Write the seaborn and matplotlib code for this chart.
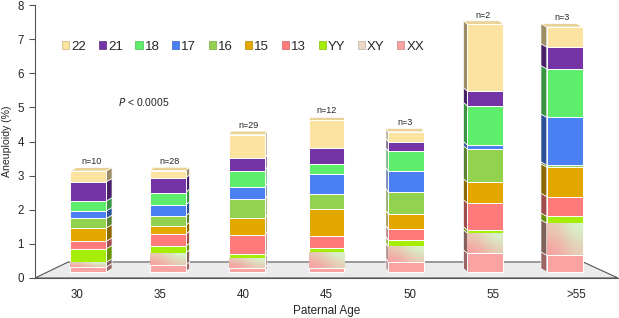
import numpy as np
import pandas as pd
import matplotlib
matplotlib.use('Agg')
import matplotlib.pyplot as plt
from matplotlib.patches import Patch, Polygon
from matplotlib.colors import to_rgb, LinearSegmentedColormap
import seaborn as sns

# data
ages = ['30', '35', '40', '45', '50', '55', '>55']
n_labels = ['n=10', 'n=28', 'n=29', 'n=12', 'n=3', 'n=2', 'n=3']
series = ['XX', 'XY', 'YY', '13', '15', '16', '17', '18', '21', '22']
xx = [0.15, 0.20, 0.11, 0.11, 0.30, 0.55, 0.49]
xy = [0.14, 0.35, 0.31, 0.48, 0.45, 0.59, 0.94]
yy = [0.39, 0.20, 0.12, 0.12, 0.19, 0.09, 0.20]
c13 = [0.22, 0.35, 0.54, 0.35, 0.32, 0.79, 0.58]
c15 = [0.39, 0.26, 0.50, 0.78, 0.44, 0.61, 0.86]
c16 = [0.28, 0.28, 0.55, 0.46, 0.65, 0.97, 0.06]
c17 = [0.22, 0.32, 0.37, 0.58, 0.61, 0.12, 1.40]
c18 = [0.29, 0.37, 0.47, 0.29, 0.58, 1.15, 1.42]
c21 = [0.56, 0.42, 0.37, 0.46, 0.28, 0.43, 0.64]
c22 = [0.32, 0.22, 0.69, 0.82, 0.29, 1.96, 0.59]
values = [xx, xy, yy, c13, c15, c16, c17, c18, c21, c22]

colors = {'XX': '#F9A3A3', 'XY': '#EBD9C6', 'YY': '#A6EE0A', '13': '#FF7B7B',
          '15': '#E2A800', '16': '#93D24E', '17': '#4A80F2', '18': '#5EEE6C',
          '21': '#7434A6', '22': '#FDE3A2'}

sns.set_style('white')
plt.rcParams['font.family'] = ['Liberation Sans', 'DejaVu Sans']

fig = plt.figure(figsize=(6.19, 3.18), dpi=100)
ax = fig.add_axes([35/619, 40/318, 583/619, 273/318])

base = 0.175                            # 3D floor
shift = np.linspace(0.14, -0.14, 7)     # perspective shift of bars
depth_x = shift * 0.5
depth_y = 0.10

# floor
ax.add_patch(Polygon([(-0.5, 0), (-0.1, 0.47), (6.08, 0.47), (6.5, 0)], closed=True,
                     facecolor='#EBEBEB', edgecolor='#555555', lw=0.8, zorder=0.5))


def darker(c, f=0.62):
    return tuple(np.array(to_rgb(c)) * f)


bottom = np.zeros(len(ages))
tops = np.zeros(len(ages))
for name, vals in zip(series, values):
    df = pd.DataFrame({'age': ages, 'val': vals})
    n0 = len(ax.patches)
    sns.barplot(data=df, x='age', y='val', color=colors[name], width=0.43,
                errorbar=None, edgecolor='white', linewidth=0.7, ax=ax, zorder=3)
    new = ax.patches[n0:]
    for i, p in enumerate(new):
        p.set_facecolor(colors[name])
        p.set_x(p.get_x() + shift[i])
        p.set_y(base + bottom[i])
        x0, w = p.get_x(), p.get_width()
        y0, y1 = base + bottom[i], base + bottom[i] + vals[i]
        # side face
        sx = x0 + w if depth_x[i] >= 0 else x0
        side = [(sx, y0), (sx + depth_x[i], y0 + depth_y), (sx + depth_x[i], y1 + depth_y), (sx, y1)]
        sc = darker(colors[name]) if name != 'XY' else darker('#E8B0A8', 0.55)
        ax.add_patch(Polygon(side, closed=True, facecolor=sc, edgecolor='white', lw=0.5, zorder=2.5))
        if name == 'XY':
            cmap = LinearSegmentedColormap.from_list('xy', ['#F7A0A0', '#D6F7CC'])
            grad = np.array([[0.45, 1.0], [0.0, 0.55]])
            im = ax.imshow(grad, cmap=cmap, extent=(x0, x0 + w, y0, y1), aspect='auto',
                           interpolation='bicubic', zorder=3.2, origin='upper')
            im.set_clip_path(p)
        if name == '22':
            top = [(x0, y1), (x0 + w, y1), (x0 + w + depth_x[i], y1 + depth_y), (x0 + depth_x[i], y1 + depth_y)]
            ax.add_patch(Polygon(top, closed=True, facecolor=darker(colors[name], 0.92),
                                 edgecolor='white', lw=0.5, zorder=2.6))
            tops[i] = y1 + depth_y
    bottom = bottom + np.array(vals)

for i, lab in enumerate(n_labels):
    ax.text(i + shift[i] + depth_x[i] / 2, tops[i] + 0.04, lab, ha='center', va='bottom', fontsize=6.5)

ax.text(0.5, 5.15, r'$\it{P}$ < 0.0005', ha='left', va='center', fontsize=7.5)

ax.set_xlim(-0.5, 6.5)
ax.set_ylim(0, 8)
ax.set_yticks(range(0, 9))
ax.set_xticks(range(7))
ax.set_xticklabels(ages)
ax.set_xticks(np.arange(-0.5, 7, 1), minor=True)
ax.tick_params(axis='x', which='major', length=0, labelsize=8.3, pad=8)
ax.tick_params(axis='x', which='minor', length=4, color='#555555', direction='out')
ax.tick_params(axis='y', length=4, color='#555555', direction='out', labelsize=8.3, left=True, pad=4)
for s in ['top', 'right']:
    ax.spines[s].set_visible(False)
for s in ['left', 'bottom']:
    ax.spines[s].set_color('#555555')
    ax.spines[s].set_linewidth(0.8)
ax.set_xlabel('')
fig.text((35 + 583 * 0.5) / 619, 7 / 318, 'Paternal Age', ha='center', va='center', fontsize=8.5)
ax.set_ylabel('Aneuploidy (%)', fontsize=7.6, labelpad=4)

handles = [Patch(facecolor=colors[s], edgecolor=darker(colors[s], 0.8), lw=0.5) for s in series[::-1]]
ax.legend(handles, series[::-1], loc='center', bbox_to_anchor=(0.357, 0.846), ncol=10,
          frameon=False, fontsize=9.5, handlelength=0.55, handleheight=0.55,
          handletextpad=0.15, columnspacing=0.95)

fig.savefig('out.png', dpi=100)
